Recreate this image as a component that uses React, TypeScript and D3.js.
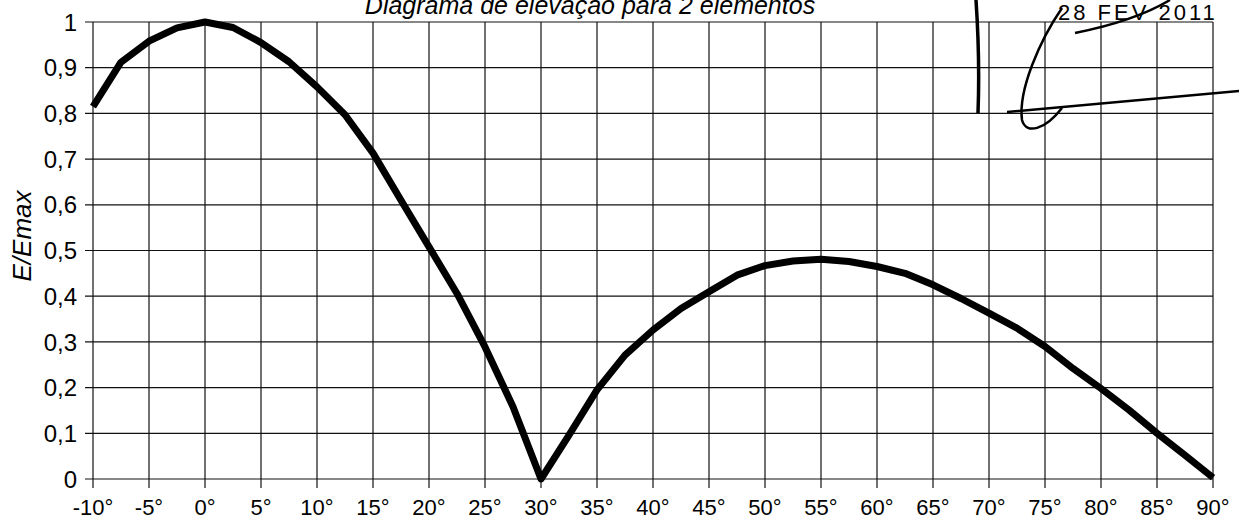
import React from "react";
import * as d3 from "d3";

const title = "Diagrama de elevação para 2 elementos";
const yLabel = "E/Emax";
const angles = [-10, -7.5, -5, -2.5, 0, 2.5, 5, 7.5, 10, 12.5, 15, 17.5, 20, 22.5, 25, 27.5, 30, 32.5, 35, 37.5, 40, 42.5, 45, 47.5, 50, 52.5, 55, 57.5, 60, 62.5, 65, 67.5, 70, 72.5, 75, 77.5, 80, 82.5, 85, 87.5, 90];
const values = [0.815, 0.912, 0.958, 0.987, 1.0, 0.988, 0.955, 0.913, 0.858, 0.797, 0.713, 0.61, 0.508, 0.406, 0.289, 0.158, 0.0, 0.096, 0.195, 0.271, 0.326, 0.373, 0.41, 0.446, 0.467, 0.477, 0.481, 0.476, 0.465, 0.45, 0.425, 0.395, 0.363, 0.33, 0.29, 0.242, 0.198, 0.151, 0.1, 0.052, 0.003];
const xTicks = [-10, -5, 0, 5, 10, 15, 20, 25, 30, 35, 40, 45, 50, 55, 60, 65, 70, 75, 80, 85, 90];
const yTicks = [0, 0.1, 0.2, 0.3, 0.4, 0.5, 0.6, 0.7, 0.8, 0.9, 1];
const stampText = "28 FEV 2011";

const W = 1239;
const H = 520;

export default function App() {
  const x = d3.scaleLinear().domain([-10, 90]).range([93, 1213]);
  const y = d3.scaleLinear().domain([0, 1]).range([479, 22]);
  const pts: [number, number][] = angles.map((a, i) => [a, values[i]]);
  const line = d3
    .line<[number, number]>()
    .x((d) => x(d[0]))
    .y((d) => y(d[1]));
  const fmtY = (v: number) => (v === 0 ? "0" : v === 1 ? "1" : d3.format(".1f")(v).replace(".", ","));
  const font = "Arial, 'Liberation Sans', sans-serif";
  return (
    <svg
      width={W}
      height={H}
      style={{ position: "absolute", left: 0, top: 0, background: "#fff" }}
      fontFamily={font}
    >
      <rect x={0} y={0} width={W} height={H} fill="#fff" />
      {/* horizontal grid */}
      {yTicks.map((t) => (
        <line key={"h" + t} x1={x(-10) - 8} x2={x(90)} y1={y(t)} y2={y(t)} stroke="#111" strokeWidth={1.2} />
      ))}
      {/* vertical grid */}
      {xTicks.map((t) => (
        <line key={"v" + t} x1={x(t)} x2={x(t)} y1={y(1)} y2={y(0) + 9} stroke="#111" strokeWidth={1.2} />
      ))}
      {/* y tick labels */}
      {yTicks.map((t) => (
        <text key={"yl" + t} x={77} y={y(t)} dy="0.36em" textAnchor="end" fontSize={24} fill="#000">
          {fmtY(t)}
        </text>
      ))}
      {/* x tick labels */}
      {xTicks.map((t) => (
        <text key={"xl" + t} x={x(t)} y={515} textAnchor="middle" fontSize={22} fill="#000">
          {`${t}°`}
        </text>
      ))}
      {/* data line */}
      <path d={line(pts) || ""} fill="none" stroke="#000" strokeWidth={7} strokeLinejoin="round" strokeLinecap="butt" />
      {/* title */}
      <text x={590} y={14} textAnchor="middle" fontSize={25} fontStyle="italic" fill="#000">
        {title}
      </text>
      {/* y axis label */}
      <text
        transform={`translate(31, ${236}) rotate(-90)`}
        textAnchor="middle"
        fontSize={26}
        fontStyle="italic"
        fill="#000"
      >
        {yLabel}
      </text>
      {/* stamp / signature annotation */}
      <g fill="none" stroke="#000">
        <path d="M976,0 Q980,60 978,113" strokeWidth={3.5} />
        <path d="M1062,8 C1040,40 1018,90 1022,120 C1026,135 1045,130 1062,108" strokeWidth={2.5} />
        <path d="M1007,112 L1239,91" strokeWidth={2.5} />
        <path d="M1075,33 C1100,28 1140,18 1170,0" strokeWidth={2.5} />
      </g>
      <text x={1058} y={20} fontSize={22} fill="#000" letterSpacing={3}>
        {stampText}
      </text>
    </svg>
  );
}
